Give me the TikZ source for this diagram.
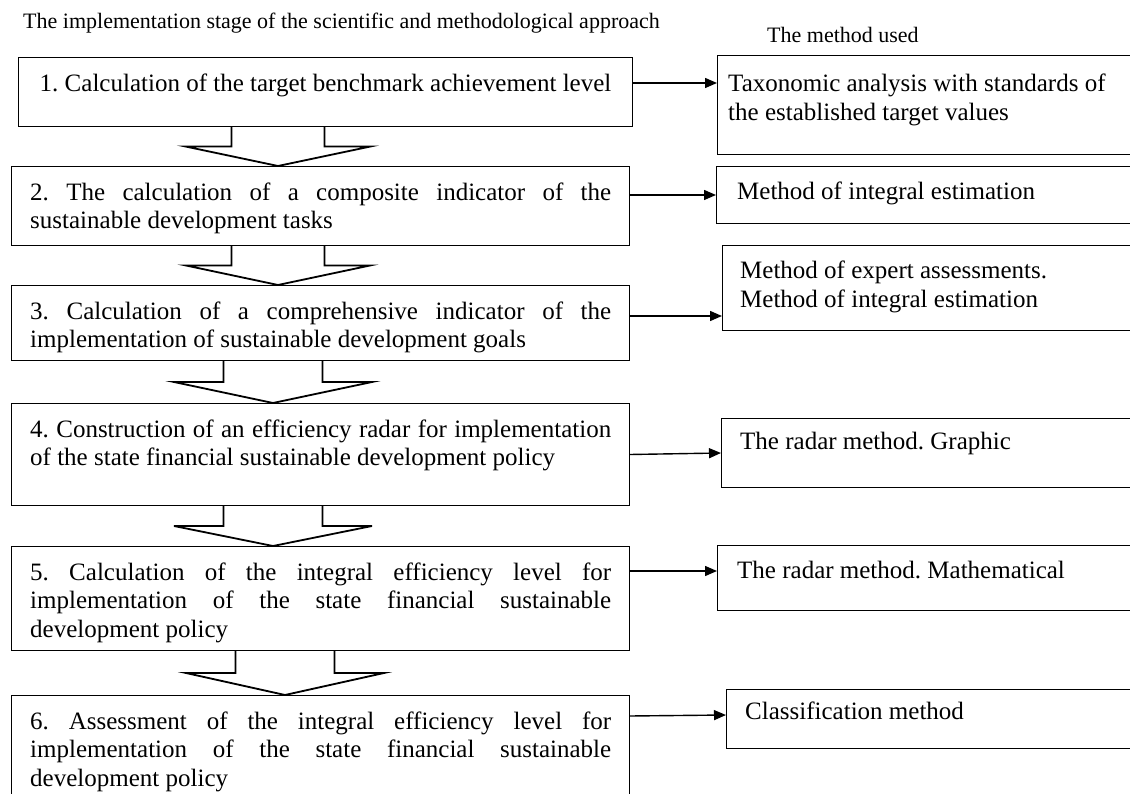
\documentclass[tikz,border=0pt]{standalone}
\usepackage{fontspec}
\setmainfont{Liberation Serif}
\usetikzlibrary{arrows.meta,calc}

% body text of the stage boxes: wide justified lines, no hyphenation
\newcommand\bodysize{\fontsize{25pt}{28.6pt}\selectfont\frenchspacing
  \spaceskip=.25em plus 10em minus .02em\relax\hyphenpenalty=10000\tolerance=10000\relax}
% body text of the method boxes: plain left-aligned lines
\newcommand\methodsize{\fontsize{25pt}{28.2pt}\selectfont\frenchspacing}
\newcommand\headsize{\fontsize{22pt}{26pt}\selectfont}

% downward block arrow between two stage boxes
% #1 upper box, #2 lower box, #3 tip x, #4 stem half-width, #5 head half-width
\newcommand\stagearrow[5]{%
  \pgfmathsetmacro\saStemL{#3-#4}%
  \pgfmathsetmacro\saStemR{#3+#4}%
  \pgfmathsetmacro\saWingL{#3-#5}%
  \pgfmathsetmacro\saWingR{#3+#5}%
  \coordinate (#1#2mid) at ($(#1.south)!.5!(#2.north)$);
  \draw[blockarrow] (\saStemL,0 |- #1.south) -- (\saStemL,0 |- #1#2mid)
    -- (\saWingL,0 |- #1#2mid) -- (#3,0 |- #2.north) -- (\saWingR,0 |- #1#2mid)
    -- (\saStemR,0 |- #1#2mid) -- (\saStemR,0 |- #1.south);
}

\tikzset{
  stepbox/.style={draw, line width=1pt, rectangle, inner sep=0pt, anchor=north west, minimum width=618pt},
  methodbox/.style={draw, line width=1pt, rectangle, inner sep=0pt, anchor=north west, minimum width=440pt},
  steptext/.style={inner sep=0pt, anchor=north west, text width=581pt, align=justify, font=\bodysize},
  methodtext/.style={inner sep=0pt, anchor=north west, align=left, font=\methodsize},
  headtext/.style={inner sep=0pt, anchor=base west, font=\headsize},
  link/.style={line width=1.4pt, -{Triangle[length=12pt,width=10pt]}},
  blockarrow/.style={line width=1.8pt, line join=miter},
}

\begin{document}
\begin{tikzpicture}[x=1pt,y=-1pt]
  \useasboundingbox (0,0) rectangle (1130,794);
  \fill[white] (0,0) rectangle (1130,794);
  \clip (0,0) rectangle (1130,794);

  % headings
  \node[headtext] (title) at (23,29) {The implementation stage of the scientific and methodological approach};
  \node[headtext] (mhead) at (767,43) {The method used};

  % stage boxes
  \node[stepbox, minimum width=614pt, minimum height=69pt] (b1) at (18,57) {};
  \node[stepbox, minimum height=79pt]  (b2) at (11,166) {};
  \node[stepbox, minimum height=75pt]  (b3) at (11,285) {};
  \node[stepbox, minimum height=102pt] (b4) at (11,403) {};
  \node[stepbox, minimum height=104pt] (b5) at (11,546) {};
  \node[stepbox, minimum height=130pt] (b6) at (11,695) {};

  \node[inner sep=0pt, anchor=north, font=\bodysize] (t1) at ([yshift=-14pt]b1.north)
    {\strut 1. Calculation of the target benchmark achievement level};
  \node[steptext] (t2) at ([shift={(19pt,-14pt)}]b2.north west)
    {\strut 2. The calculation of a composite indicator of the\linebreak sustainable development tasks};
  \node[steptext] (t3) at ([shift={(19pt,-14pt)}]b3.north west)
    {\strut 3. Calculation of a comprehensive indicator of the\linebreak implementation of sustainable development goals};
  \node[steptext] (t4) at ([shift={(19pt,-14pt)}]b4.north west)
    {\strut 4. Construction of an efficiency radar for implementation\linebreak of the state financial sustainable development policy};
  \node[steptext] (t5) at ([shift={(19pt,-14pt)}]b5.north west)
    {\strut 5. Calculation of the integral efficiency level for\linebreak implementation of the state financial sustainable\linebreak development policy};
  \node[steptext] (t6) at ([shift={(19pt,-14pt)}]b6.north west)
    {\strut 6. Assessment of the integral efficiency level for\linebreak implementation of the state financial sustainable\linebreak development policy};

  % method boxes
  \node[methodbox, minimum height=99pt] (m1) at (717,55) {};
  \node[methodbox, minimum height=57pt] (m2) at (716,166) {};
  \node[methodbox, minimum height=85pt] (m3) at (722,245) {};
  \node[methodbox, minimum height=69pt] (m4) at (721,418) {};
  \node[methodbox, minimum height=65pt] (m5) at (717,545) {};
  \node[methodbox, minimum height=59pt] (m6) at (726,689) {};

  \node[methodtext] (n1) at ([shift={(11pt,-17pt)}]m1.north west)
    {\strut Taxonomic analysis with standards of\\\strut the established target values};
  \node[methodtext] (n2) at ([shift={(21pt,-14pt)}]m2.north west) {\strut Method of integral estimation};
  \node[methodtext] (n3) at ([shift={(18pt,-14pt)}]m3.north west)
    {\strut Method of expert assessments.\\\strut Method of integral estimation};
  \node[methodtext] (n4) at ([shift={(19pt,-12pt)}]m4.north west) {\strut The radar method. Graphic};
  \node[methodtext] (n5) at ([shift={(20pt,-14pt)}]m5.north west) {\strut The radar method. Mathematical};
  \node[methodtext] (n6) at ([shift={(19pt,-11pt)}]m6.north west) {\strut Classification method};

  % stage -> method connectors
  \draw[link] ([yshift=-26pt]b1.north east) -- ([yshift=-28pt]m1.north west);
  \draw[link] ([yshift=-29pt]b2.north east) -- ([yshift=-29pt]m2.north west);
  \draw[link] ([yshift=-31pt]b3.north east) -- ([yshift=-71pt]m3.north west);
  \draw[link] (b4.east) -- (m4.west);
  \draw[link] ([yshift=-25pt]b5.north east) -- ([yshift=-26pt]m5.north west);
  \draw[link] ([yshift=-21pt]b6.north east) -- ([yshift=-26pt]m6.north west);

  % stage -> stage block arrows
  \stagearrow{b1}{b2}{278}{46.5}{92.5}
  \stagearrow{b2}{b3}{278}{46.5}{92}
  \stagearrow{b3}{b4}{273}{49.5}{99}
  \stagearrow{b4}{b5}{273}{49.5}{99}
  \stagearrow{b5}{b6}{285}{49.5}{99}
\end{tikzpicture}
\end{document}
